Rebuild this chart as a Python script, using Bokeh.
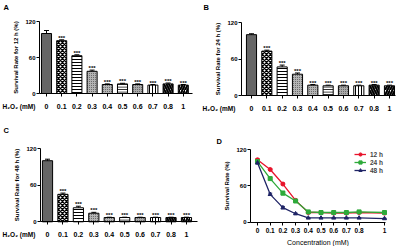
from bokeh.plotting import figure
from bokeh.layouts import gridplot
from bokeh.models import (ColumnDataSource, Range1d, FixedTicker, Whisker, TeeHead,
                          Label, Legend, LegendItem)
from bokeh.core.properties import value
from bokeh.embed import file_html
from bokeh.resources import INLINE

# ---------------- data ----------------
conc_labels = ["0", "0.1", "0.2", "0.3", "0.4", "0.5", "0.6", "0.7", "0.8", "1"]
conc = [0, 0.1, 0.2, 0.3, 0.4, 0.5, 0.6, 0.7, 0.8, 1]

rate_12h = [100, 88, 63, 37, 15, 16, 15, 14, 16, 14]
err_12h = [5, 1.5, 1.5, 2, 1, 1, 1, 1, 1.5, 1]
rate_24h = [100, 73, 47, 35, 17, 16, 16, 16, 17, 16]
err_24h = [1.5, 1.5, 3, 2, 1, 1, 1, 1, 1, 1]
rate_48h = [100, 45, 23, 14, 7, 7, 7, 7, 7, 7]
err_48h = [2.5, 2, 2.5, 1.5, 0.5, 0.5, 0.5, 0.5, 0.5, 0.5]
stars = ["", "***", "***", "***", "***", "***", "***", "***", "***", "***"]

line_12h = [103, 87, 63, 36, 16, 16, 15, 15, 16, 15]
line_24h = [100, 72, 48, 35, 17, 16, 16, 16, 17, 16]
line_48h = [98, 46, 24, 14, 7, 7, 7, 7, 7, 6]
line_err_12h = [2, 1.5, 1.5, 1.5, 1, 1, 1, 1, 1, 1]
line_err_24h = [1.5, 1.5, 3, 1.5, 1, 1, 1, 1, 1, 1]
line_err_48h = [2, 2, 2, 1, 0.5, 0.5, 0.5, 0.5, 0.5, 0.5]
series_names = ["12 h", "24 h", "48 h"]

y_ticks = [0, 60, 120]

# ---------------- styles ----------------
FONT = "Liberation Sans"
W, H = 200, 123
bar_fill = ["#666666", "white", "white", "#b4b4b4", "#b4b4b4", "white", "#a9a9a9",
            "white", "white", "white"]
bar_hatch = [" ", "diagonal_cross", "horizontal_line", "dot", "dot", "horizontal_line",
             "dot", "vertical_line", "left_diagonal_line", "right_diagonal_line"]
bar_hscale = [1, 4, 3, 2, 2, 2.5, 2, 3, 5, 5]
bar_hweight = [1, 1.4, 1, 0.6, 0.6, 1, 0.6, 1, 2, 2]
bar_hcolor = ["black", "black", "black", "#555555", "#555555", "black", "#555555",
              "black", "black", "black"]
line_colors = ["#e8132b", "#2eaa3a", "#1f2466"]


def make_fig(x_px0, x_step, y_px0, y_px120):
    """Figure whose frame fills the canvas; ranges chosen so that data x=0 sits at
    pixel x_px0 (one unit = x_step px) and y=0/120 at pixel rows y_px0/y_px120."""
    ys = (y_px0 - y_px120) / 120.0
    p = figure(width=W, height=H,
               x_range=Range1d(-x_px0 / x_step, (W - x_px0) / x_step),
               y_range=Range1d(-(H - y_px0) / ys, y_px0 / ys),
               output_backend="svg", toolbar_location=None,
               min_border_left=0, min_border_right=0, min_border_top=0,
               min_border_bottom=0)
    p.xgrid.grid_line_color = None
    p.ygrid.grid_line_color = None
    p.outline_line_color = None
    return p


def style_axes(p, yaxis_at, xaxis_end):
    p.yaxis.fixed_location = yaxis_at
    p.xaxis.fixed_location = 0
    p.yaxis.bounds = (0, 120)
    p.xaxis.bounds = (yaxis_at, xaxis_end)
    for ax in (p.xaxis[0], p.yaxis[0]):
        ax.axis_line_color = "black"
        ax.axis_line_width = 1
        ax.major_tick_line_color = "black"
        ax.major_tick_in = 0
        ax.major_tick_out = 3
        ax.minor_tick_line_color = None
        ax.major_label_text_font = FONT
        ax.major_label_text_font_style = "bold"
        ax.major_label_text_color = "black"
        ax.axis_label_text_font = FONT
        ax.axis_label_text_color = "black"
    p.yaxis.ticker = FixedTicker(ticks=y_ticks)
    p.yaxis.major_label_text_font_size = "6px"
    p.yaxis.major_label_standoff = 1
    p.yaxis.axis_label_text_font_size = "6px"
    p.yaxis.axis_label_text_font_style = "bold"
    p.yaxis.axis_label_standoff = 3


def add_letter(p, letter, dx, dy):
    p.add_layout(Label(x=p.x_range.start, y=p.y_range.end, text=letter, x_offset=dx,
                       y_offset=-dy, text_align="left", text_baseline="top",
                       text_font=FONT, text_font_size="7.5px", text_font_style="bold",
                       text_color="black"))


def bar_panel(letter, ylabel, vals, errs, x_px0, x_step, y_px0, y_px120, yaxis_at, xaxis_end):
    n = len(vals)
    xpos = list(range(n))
    src = ColumnDataSource(dict(
        x=xpos, top=vals, upper=[v + e for v, e in zip(vals, errs)],
        fill=bar_fill, hatch=bar_hatch, hscale=bar_hscale, hweight=bar_hweight,
        hcolor=bar_hcolor, stars=stars))
    p = make_fig(x_px0, x_step, y_px0, y_px120)
    p.vbar(x="x", top="top", width=0.66, bottom=0, source=src, fill_color="fill",
           line_color="black", line_width=1, hatch_pattern="hatch", hatch_scale="hscale",
           hatch_weight="hweight", hatch_color="hcolor")
    p.add_layout(Whisker(source=src, base="x", upper="upper", lower="top",
                         line_color="black", line_width=1, lower_head=None,
                         upper_head=TeeHead(size=5, line_color="black", line_width=1)))
    p.text(x="x", y="upper", text="stars", source=src, text_align="center",
           text_baseline="bottom", text_font=value(FONT), text_font_size="6px",
           text_font_style="bold", text_color="black", y_offset=1)
    style_axes(p, yaxis_at, xaxis_end)
    p.xaxis.ticker = FixedTicker(ticks=xpos)
    p.xaxis.major_label_overrides = {i: lbl for i, lbl in enumerate(conc_labels)}
    p.xaxis.major_label_text_font_size = "7px"
    p.xaxis.major_label_standoff = 7
    p.yaxis.axis_label = ylabel
    p.add_layout(Label(x=p.x_range.start, y=0, text="H\u2082O\u2082 (mM)", x_offset=2,
                       y_offset=-13, text_align="left", text_baseline="middle",
                       text_font=FONT, text_font_size="6.5px", text_font_style="bold",
                       text_color="black"))
    add_letter(p, letter, 3, 2)
    return p


pA = bar_panel("A", "Survival Rate for 12 h (%)", rate_12h, err_12h,
               46, 15.2, 93, 21, -0.46, 9.6)
pB = bar_panel("B", "Survival Rate for 24 h (%)", rate_24h, err_24h,
               51, 15.33, 95, 22, -0.65, 9.4)
pC = bar_panel("C", "Survival Rate for 48 h (%)", rate_48h, err_48h,
               47, 15.44, 98.3, 25, -0.45, 9.7)

# ---------------- panel D ----------------
pD = make_fig(57, 127, 98.7, 26)
items = []
markers = ["circle", "square", "triangle"]
for name, ys, es, col, mk in zip(series_names, [line_12h, line_24h, line_48h],
                                 [line_err_12h, line_err_24h, line_err_48h],
                                 line_colors, markers):
    src = ColumnDataSource(dict(x=conc, y=ys, lo=[a - b for a, b in zip(ys, es)],
                                hi=[a + b for a, b in zip(ys, es)]))
    pD.add_layout(Whisker(source=src, base="x", upper="hi", lower="lo", line_color=col,
                          line_width=1,
                          upper_head=TeeHead(size=4, line_color=col, line_width=1),
                          lower_head=TeeHead(size=4, line_color=col, line_width=1)))
    r1 = pD.line("x", "y", source=src, line_color=col, line_width=1.3)
    r2 = pD.scatter("x", "y", source=src, marker=mk, size=4, fill_color=col, line_color=col)
    items.append(LegendItem(label=name, renderers=[r1, r2]))
style_axes(pD, -0.055, 1.008)
pD.xaxis.ticker = FixedTicker(ticks=conc)
pD.xaxis.major_label_overrides = {c: lbl for c, lbl in zip(conc, conc_labels)}
pD.xaxis.major_label_text_font_size = "6.5px"
pD.xaxis.major_label_standoff = 3
pD.xaxis.axis_label = "Concentration (mM)"
pD.xaxis.axis_label_text_font_size = "7px"
pD.xaxis.axis_label_text_font_style = "normal"
pD.xaxis.axis_label_standoff = 2
pD.yaxis.axis_label = "Survival Rate (%)"
leg = Legend(items=items, location=(154, 72), border_line_color=None,
             background_fill_alpha=0, label_text_font=FONT, label_text_font_size="6.5px",
             label_text_font_style="bold", glyph_width=12, glyph_height=8, label_height=8,
             spacing=0, padding=1, margin=0, label_standoff=4)
pD.add_layout(leg)
add_letter(pD, "D", 16, 13)

grid = gridplot([[pA, pB], [pC, pD]], toolbar_location=None)
open("out.html", "w").write(file_html(grid, INLINE))
